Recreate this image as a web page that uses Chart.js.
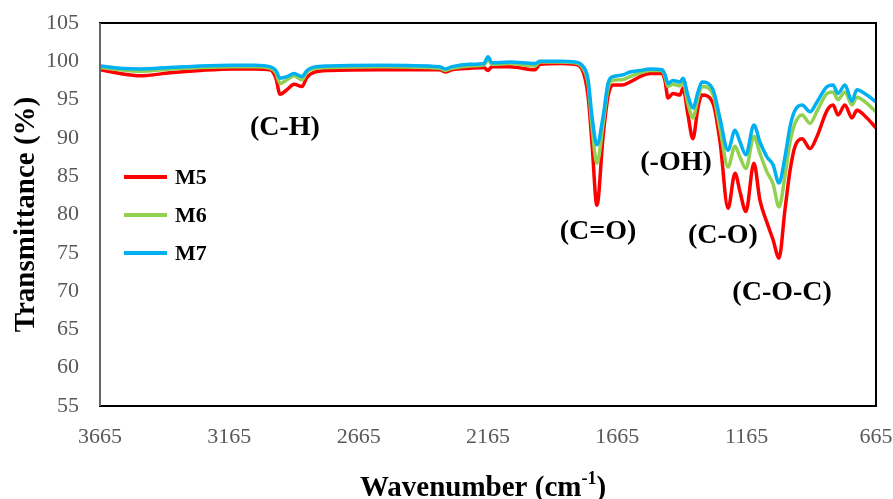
<!DOCTYPE html>
<html>
<head>
<meta charset="utf-8">
<script src="https://cdn.jsdelivr.net/npm/chart.js@4.4.1/dist/chart.umd.min.js"></script>
<style>
  html, body { margin: 0; padding: 0; background: #fff; }
  #wrap { width: 893px; height: 499px; }
</style>
</head>
<body>
<div id="wrap"><canvas id="ftirChart" width="893" height="499"></canvas></div>
<script>
// wavenumber (cm-1), high to low
const wavenumbers = [3665, 3588, 3510, 3394, 3278, 3151, 3066, 3008, 2985, 2969, 2942, 2915, 2884, 2865, 2842, 2776,
    2583, 2351, 2331, 2304, 2235, 2181, 2165, 2150, 2080, 1983, 1964, 1887, 1829, 1802, 1778, 1763, 1744, 1720,
    1701, 1682, 1647, 1616, 1577, 1539, 1492, 1481, 1469, 1450, 1423, 1411, 1392, 1373, 1353, 1338, 1295, 1268,
    1237, 1210, 1191, 1168, 1137, 1114, 1086, 1063, 1040, 1017, 997, 978, 951, 920, 893, 854, 831, 812, 785,
    758, 739, 700, 665];

const m5 = [98.9, 98.4, 98.1, 98.5, 98.8, 99.0, 99.0, 98.9, 97.8, 95.7, 96.3, 97.0, 96.7, 97.9, 98.5, 98.8,
    98.9, 98.9, 98.6, 98.9, 99.1, 99.2, 98.8, 99.3, 99.3, 98.9, 99.6, 99.7, 99.6, 99.0, 95.4, 89.3, 81.2, 90.2,
    95.4, 96.9, 96.9, 97.3, 98.0, 98.4, 98.4, 97.5, 95.2, 95.8, 95.6, 96.5, 93.0, 89.9, 94.0, 95.6, 94.5, 89.5,
    80.8, 85.4, 83.0, 80.4, 86.7, 81.9, 78.9, 76.7, 74.3, 80.6, 85.8, 88.9, 89.9, 88.6, 90.2, 93.6, 94.3, 93.0, 94.3,
    92.6, 93.6, 92.6, 91.3];

const m6 = [99.2, 98.9, 98.7, 99.0, 99.2, 99.3, 99.3, 99.1, 98.5, 97.1, 97.6, 98.1, 97.6, 98.6, 99.0, 99.2,
    99.3, 99.1, 98.8, 99.1, 99.4, 99.5, 100.2, 99.6, 99.7, 99.4, 99.9, 99.9, 99.8, 99.3, 97.0, 91.5, 86.7, 91.8,
    96.5, 97.5, 97.6, 98.0, 98.5, 98.8, 98.8, 98.0, 96.7, 97.0, 96.8, 97.3, 94.5, 92.6, 95.2, 96.7, 95.7, 91.2,
    86.2, 88.9, 87.5, 86.0, 90.2, 88.0, 85.5, 84.0, 81.0, 85.0, 89.5, 91.9, 93.0, 91.9, 93.5, 95.8, 96.0, 95.0, 96.0,
    94.3, 95.3, 94.5, 93.4];

const m7 = [99.4, 99.1, 99.0, 99.2, 99.4, 99.5, 99.5, 99.3, 98.8, 97.8, 98.0, 98.4, 98.0, 98.8, 99.2, 99.4,
    99.5, 99.3, 99.0, 99.3, 99.6, 99.7, 100.6, 99.8, 99.9, 99.7, 100.0, 100.0, 99.9, 99.5, 97.6, 92.8, 89.1, 92.8,
    97.1, 98.0, 98.2, 98.6, 98.8, 99.0, 98.9, 98.3, 97.1, 97.5, 97.3, 97.8, 95.5, 93.9, 96.0, 97.3, 96.3, 92.5,
    88.4, 91.0, 89.5, 87.8, 91.7, 89.5, 87.5, 86.5, 84.1, 87.5, 91.5, 93.6, 94.3, 93.4, 94.7, 96.7, 96.9, 95.8, 96.9,
    94.8, 96.3, 95.6, 94.7];

const xTicks = [3665, 3165, 2665, 2165, 1665, 1165, 665];
const yTicks = [55, 60, 65, 70, 75, 80, 85, 90, 95, 100, 105];

// band labels placed in data units
const bandLabels = ['(C-H)', '(C=O)', '(-OH)', '(C-O)', '(C-O-C)'];
const bandWavenumbers = [2950, 1740, 1438, 1257, 1028];
const bandTransmittance = [91.3, 77.7, 86.7, 77.2, 69.8];

const serif = '"Liberation Serif", "Times New Roman", serif';

const toPoints = (ys) => wavenumbers.map((w, i) => ({ x: w, y: ys[i] }));

const extras = {
    id: 'extras',
    afterDatasetsDraw(chart) {
        const ctx = chart.ctx;
        const area = chart.chartArea;
        const xs = chart.scales.x;
        const ys = chart.scales.y;

        // plot frame
        ctx.save();
        ctx.strokeStyle = '#000';
        ctx.lineWidth = 2;
        ctx.strokeRect(area.left, area.top, area.right - area.left, area.bottom - area.top);
        ctx.strokeStyle = '#666';
        ctx.beginPath();
        ctx.moveTo(area.left, area.top);
        ctx.lineTo(area.left, area.bottom);
        ctx.stroke();
        ctx.restore();

        // band labels
        ctx.save();
        ctx.fillStyle = '#000';
        ctx.font = 'bold 28px ' + serif;
        ctx.textAlign = 'center';
        ctx.textBaseline = 'middle';
        bandLabels.forEach((t, i) => {
            ctx.fillText(t, xs.getPixelForValue(bandWavenumbers[i]), ys.getPixelForValue(bandTransmittance[i]));
        });
        ctx.restore();

        // legend inside plot
        ctx.save();
        ctx.font = 'bold 22px ' + serif;
        ctx.textBaseline = 'middle';
        ctx.textAlign = 'left';
        chart.data.datasets.forEach((ds, i) => {
            const y = area.top + 154 + i * 38;
            ctx.strokeStyle = ds.borderColor;
            ctx.lineWidth = 4;
            ctx.beginPath();
            ctx.moveTo(area.left + 24, y);
            ctx.lineTo(area.left + 67, y);
            ctx.stroke();
            ctx.fillStyle = '#000';
            ctx.fillText(ds.label, area.left + 75, y + 1);
        });
        ctx.restore();

        // axis titles
        ctx.save();
        ctx.fillStyle = '#000';
        ctx.font = 'bold 29px ' + serif;
        ctx.textAlign = 'center';
        ctx.textBaseline = 'middle';
        ctx.translate(27, (area.top + area.bottom) / 2);
        ctx.rotate(-Math.PI / 2);
        ctx.fillText('Transmittance (%)', 0, 0);
        ctx.restore();

        ctx.save();
        ctx.fillStyle = '#000';
        ctx.textBaseline = 'alphabetic';
        ctx.textAlign = 'left';
        const big = 'bold 29px ' + serif;
        const small = 'bold 18px ' + serif;
        const p1 = 'Wavenumber (cm', p2 = '-1', p3 = ')';
        ctx.font = big;
        const w1 = ctx.measureText(p1).width, w3 = ctx.measureText(p3).width;
        ctx.font = small;
        const w2 = ctx.measureText(p2).width;
        let x = 483 - (w1 + w2 + w3) / 2;
        const base = 496;
        ctx.font = big;
        ctx.fillText(p1, x, base);
        x += w1;
        ctx.font = small;
        ctx.fillText(p2, x, base - 12);
        x += w2;
        ctx.font = big;
        ctx.fillText(p3, x, base);
        ctx.restore();
    }
};

new Chart(document.getElementById('ftirChart').getContext('2d'), {
    type: 'line',
    data: {
        datasets: [
            { label: 'M5', data: toPoints(m5), borderColor: '#FF0000', order: 2 },
            { label: 'M6', data: toPoints(m6), borderColor: '#92D050', order: 1 },
            { label: 'M7', data: toPoints(m7), borderColor: '#00B0F0', order: 0 }
        ]
    },
    options: {
        responsive: false,
        animation: false,
        devicePixelRatio: 1,
        layout: { padding: { top: 23, right: 17, left: 0, bottom: 0 } },
        elements: {
            line: { borderWidth: 3.5, cubicInterpolationMode: 'monotone', fill: false },
            point: { radius: 0, hoverRadius: 0 }
        },
        plugins: {
            legend: { display: false },
            tooltip: { enabled: false }
        },
        scales: {
            x: {
                type: 'linear',
                reverse: true,
                min: 665,
                max: 3665,
                afterBuildTicks: (s) => { s.ticks = xTicks.map(v => ({ value: v })); },
                afterFit: (s) => {
                    s.height = 93;
                    s.paddingLeft = 0;
                    s.paddingRight = 0;
                },
                grid: { display: false },
                border: { display: false },
                ticks: {
                    color: '#595959',
                    padding: 10,
                    maxRotation: 0,
                    autoSkip: false,
                    font: { family: serif, size: 22 },
                    callback: (v) => String(v)
                }
            },
            y: {
                min: 55,
                max: 105,
                afterBuildTicks: (s) => { s.ticks = yTicks.map(v => ({ value: v })); },
                afterFit: (s) => {
                    s.width = 100;
                    s.paddingTop = 0;
                    s.paddingBottom = 0;
                },
                grid: { display: false },
                border: { display: false },
                ticks: {
                    color: '#595959',
                    padding: 13,
                    font: { family: serif, size: 22 },
                    callback: (v) => String(v)
                }
            }
        }
    },
    plugins: [extras]
});
</script>
</body>
</html>
